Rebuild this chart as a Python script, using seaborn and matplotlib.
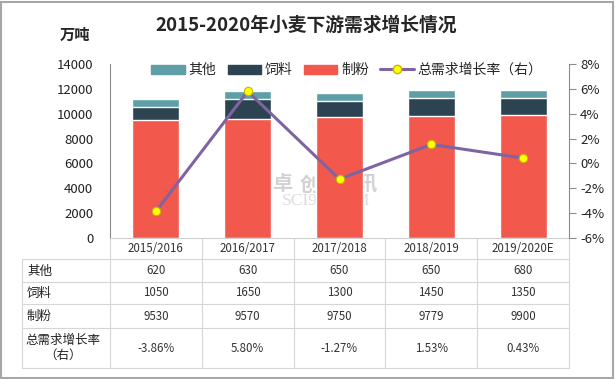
import numpy as np
import pandas as pd
import seaborn as sns
import matplotlib.pyplot as plt
import matplotlib.transforms as mtransforms
from matplotlib.patches import Rectangle, Patch
from matplotlib.lines import Line2D

# data
years = ['2015/2016', '2016/2017', '2017/2018', '2018/2019', '2019/2020E']
other = [620, 630, 650, 650, 680]        # 其他
feed = [1050, 1650, 1300, 1450, 1350]    # 饲料
flour = [9530, 9570, 9750, 9779, 9900]   # 制粉
growth = [-3.86, 5.80, -1.27, 1.53, 0.43]  # 总需求增长率（右）, %

c_other = '#5e9ea7'
c_feed = '#2c4352'
c_flour = '#f2584b'
c_line = '#8064a2'

sns.set_style('white')
plt.rcParams['font.family'] = ['Noto Sans CJK SC', 'DejaVu Sans']

W, H = 615, 379
fig = plt.figure(figsize=(W / 100, H / 100), dpi=100)

def fx(px):
    return px / W

def fy(py):
    return 1 - py / H

ax_l, ax_r, ax_t, ax_b = 110, 569, 64, 238
ax = fig.add_axes([fx(ax_l), fy(ax_b), fx(ax_r - ax_l), fy(ax_t) - fy(ax_b)])

df = pd.DataFrame({'year': years, 'other': other, 'feed': feed, 'flour': flour})
df['top'] = df['other'] + df['feed'] + df['flour']
df['mid'] = df['feed'] + df['flour']

# watermark, sits behind the bars
for k, ch in enumerate('卓创资讯'):
    ax.text(fx(282 + 28 * k), fy(184), ch, transform=fig.transFigure, color='#d2d2d2',
            fontsize=14.5, fontweight='bold', ha='center', va='center', zorder=0)
ax.text(fx(326), fy(201), 'SCI99.COM', transform=fig.transFigure, color='#dcdcdc',
        fontsize=12.5, family='Liberation Serif', ha='center', va='center', zorder=0)

sns.barplot(data=df, x='year', y='top', color=c_other, width=0.51, saturation=1, ax=ax, zorder=2)
sns.barplot(data=df, x='year', y='mid', color=c_feed, width=0.51, saturation=1, ax=ax, zorder=2)
sns.barplot(data=df, x='year', y='flour', color=c_flour, width=0.51, saturation=1, ax=ax, zorder=2)

ax.set_ylim(0, 14000)
ax.set_yticks(np.arange(0, 14001, 2000))
ax.set_xlim(-0.5, 4.5)
ax.set_xlabel('')
ax.set_ylabel('')
ax.set_xticklabels([])
ax.tick_params(axis='x', length=0)
ax.tick_params(axis='y', length=0, pad=12, labelsize=9.5, labelcolor='#222222')
for s in ['top', 'right']:
    ax.spines[s].set_visible(False)
ax.spines['left'].set_color('#8c8c8c')
ax.spines['bottom'].set_color('#d0d0d0')

ax2 = ax.twinx()
sns.lineplot(x=np.arange(len(years)), y=growth, ax=ax2, color=c_line, lw=2.2,
             marker='o', markersize=6, markerfacecolor='#ffff00',
             markeredgecolor='#c9b400', markeredgewidth=0.8, zorder=5)
ax2.set_ylim(-6, 8)
ax2.set_yticks(np.arange(-6, 9, 2))
ax2.set_yticklabels([f'{v}%' for v in range(-6, 9, 2)])
ax2.tick_params(axis='y', length=5, width=0.8, color='#8c8c8c', pad=3,
                labelsize=9.5, labelcolor='#222222')
for s in ['top', 'left', 'bottom']:
    ax2.spines[s].set_visible(False)
ax2.spines['right'].set_color('#8c8c8c')
ax2.set_xlim(-0.5, 4.5)

# legend
handles = [Patch(color=c_other), Patch(color=c_feed), Patch(color=c_flour),
           Line2D([], [], color=c_line, lw=2.2, marker='o', markersize=6,
                  markerfacecolor='#ffff00', markeredgecolor='#c9b400')]
labels = ['其他', '饲料', '制粉', '总需求增长率（右）']
fig.legend(handles, labels, loc='center', bbox_to_anchor=(fx(347), fy(70)), ncol=4,
           frameon=False, fontsize=10, handlelength=2.4, handleheight=0.6,
           columnspacing=0.8, handletextpad=0.3)

# titles
fig.text(fx(306), fy(25), '2015-2020年小麦下游需求增长情况', ha='center', va='center',
         fontsize=13.5, fontweight='bold')
fig.text(fx(75), fy(35), '万吨', ha='center', va='center', fontsize=11, fontweight='bold')

# data table under the chart
blend = mtransforms.blended_transform_factory(ax.transData, fig.transFigure)
grid = '#d6d6d6'
row_lines = [259, 282, 304, 328, 368]
for yl in row_lines:
    fig.add_artist(Line2D([fx(22), fx(ax_r)], [fy(yl), fy(yl)], color=grid, lw=0.8))
fig.add_artist(Line2D([fx(22), fx(22)], [fy(259), fy(368)], color=grid, lw=0.8))
for k in range(len(years) + 1):
    ax.add_artist(Line2D([k - 0.5, k - 0.5], [fy(ax_b), fy(368)], color=grid, lw=0.8,
                         transform=blend, clip_on=False))

row_y = [248, 271, 293, 316, 348]
rows = [other, feed, flour, [f'{v:.2f}%' for v in growth]]
row_names = ['其他', '饲料', '制粉']
for i, yr in enumerate(years):
    ax.text(i, fy(row_y[0]), yr, transform=blend, ha='center', va='center',
            fontsize=8.3, color='#333333')
    for r, vals in enumerate(rows):
        ax.text(i, fy(row_y[r + 1]), str(vals[i]), transform=blend, ha='center',
                va='center', fontsize=8.3, color='#333333')
for r, name in enumerate(row_names):
    fig.text(fx(27), fy(row_y[r + 1]), name, ha='left', va='center', fontsize=9,
             color='#222222')
fig.text(fx(63), fy(348), '总需求增长率\n（右）', ha='center', va='center', fontsize=9,
         color='#222222', linespacing=1.15)

# outer frame
fig.add_artist(Rectangle((0.002, 0.003), 0.995, 0.993, transform=fig.transFigure,
                         fill=False, edgecolor='#a6a6a6', lw=1.5))

fig.savefig('out.png', dpi=100)
